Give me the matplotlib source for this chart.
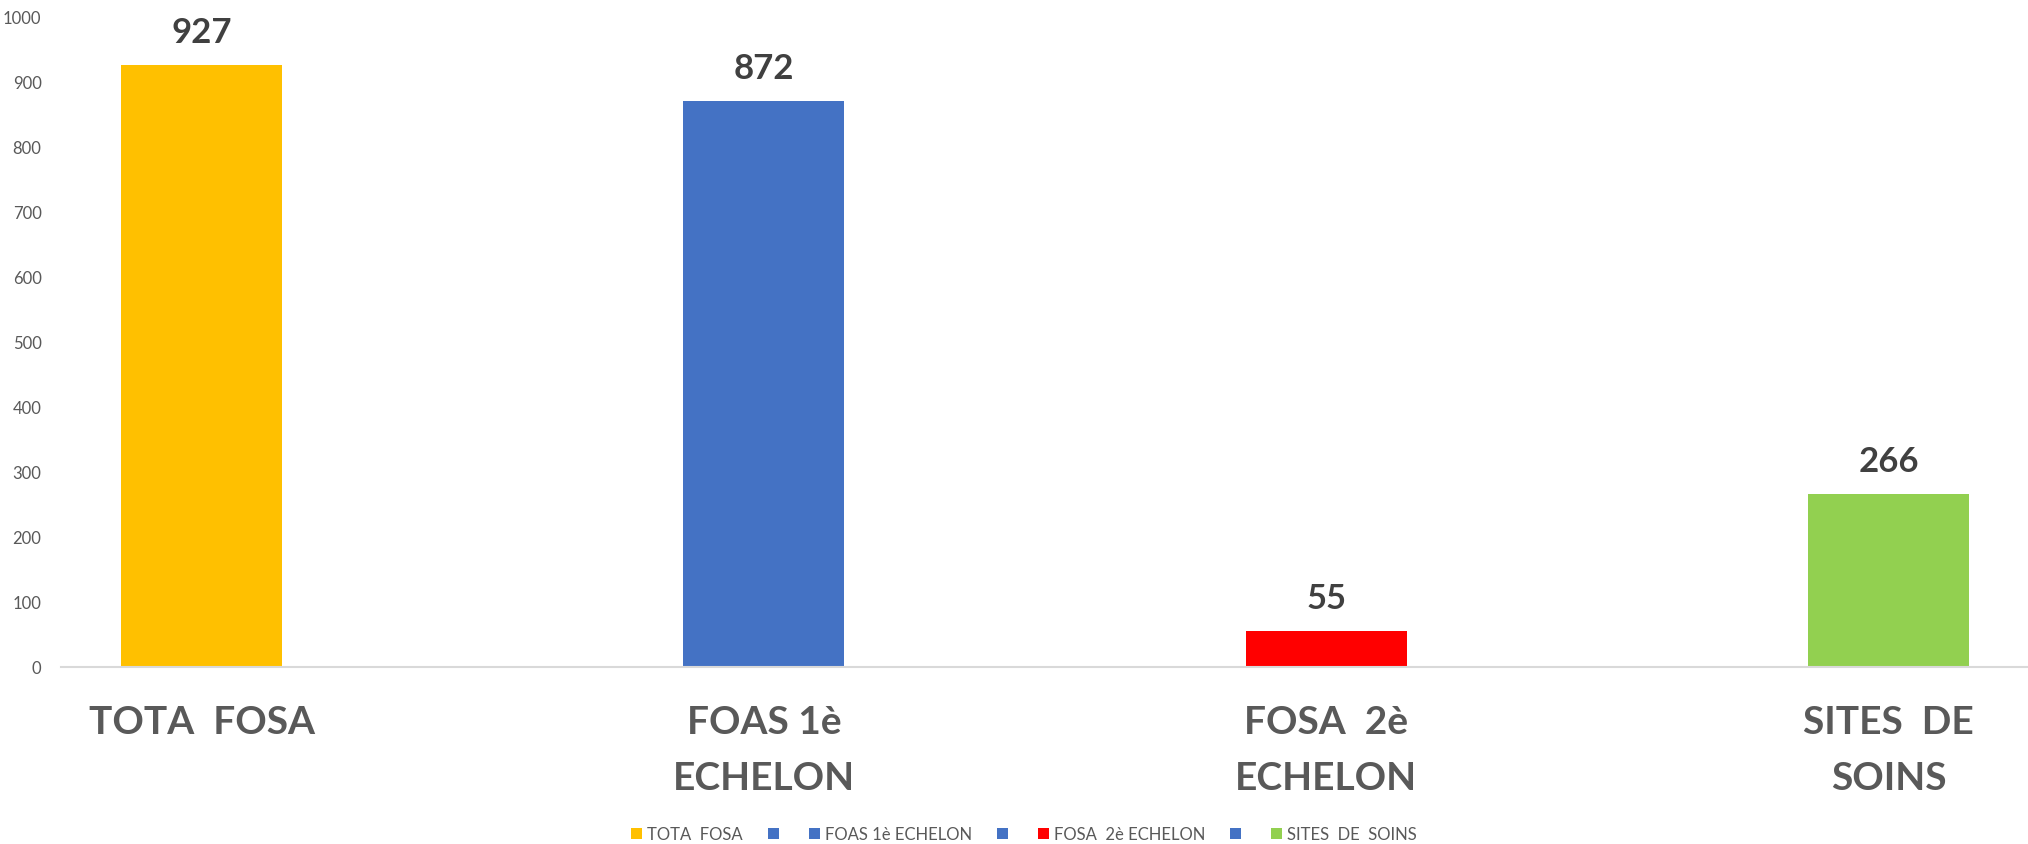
import matplotlib
matplotlib.use("Agg")
import matplotlib.pyplot as plt
from matplotlib.patches import Patch
import numpy as np

# données
categories = ["TOTA  FOSA", "FOAS 1è\nECHELON", "FOSA  2è\nECHELON", "SITES  DE\nSOINS"]
values = [927, 872, 55, 266]
bar_colors = ["#FFC000", "#4472C4", "#FF0000", "#92D050"]

legend_labels = ["TOTA  FOSA", "", "FOAS 1è ECHELON", "", "FOSA  2è ECHELON", "", "SITES  DE  SOINS"]
legend_colors = ["#FFC000", "#4472C4", "#4472C4", "#4472C4", "#FF0000", "#4472C4", "#92D050"]
yticks = [0, 100, 200, 300, 400, 500, 600, 700, 800, 900, 1000]

plt.rcParams["font.family"] = ["Lato", "DejaVu Sans"]

fig = plt.figure(figsize=(20.28, 8.44), dpi=100)
ax = fig.add_axes([61/2028, 177/844, 1 - 61/2028, (667-18)/844])

x = np.arange(len(values))
bars = ax.bar(x, values, width=0.2863, color=bar_colors, zorder=2)

for xi, v in zip(x, values):
    ax.annotate(str(v), (xi, v), xytext=(0, 23), textcoords="offset points",
                ha="center", va="center", fontsize=25, fontweight="bold", color="#404040")

ax.set_xlim(-0.25, 3.248)
ax.set_ylim(0, 1000)
ax.set_yticks(yticks)
ax.set_yticklabels([str(t) for t in yticks], fontsize=12, color="#595959")
ax.set_xticks(x)
ax.set_xticklabels(categories, fontsize=28, fontweight="bold", color="#595959", linespacing=1.75)

for s in ["top", "right", "left"]:
    ax.spines[s].set_visible(False)
ax.spines["bottom"].set_color("#D9D9D9")
ax.spines["bottom"].set_linewidth(1.5)
ax.tick_params(axis="y", length=0, pad=14)
ax.tick_params(axis="x", length=0, pad=27)

handles = [Patch(facecolor=c, edgecolor="none") for c in legend_colors]
fig.legend(handles, legend_labels, ncol=7, loc="center",
           bbox_to_anchor=(1024/2028, 9.5/844), frameon=False,
           fontsize=12, labelcolor="#595959", handlelength=0.66, handleheight=0.66,
           handletextpad=0.3, columnspacing=1.5, borderpad=0, borderaxespad=0)

fig.savefig("out.png", dpi=100)
